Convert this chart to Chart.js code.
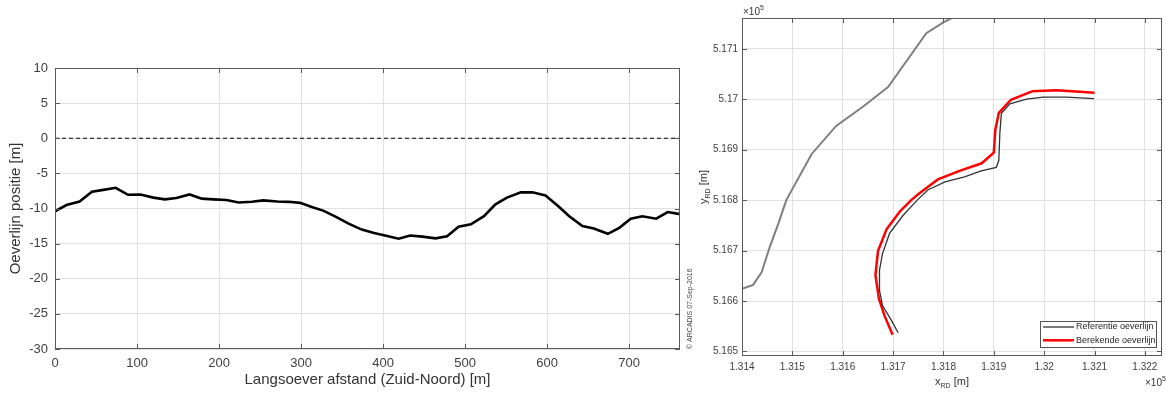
<!DOCTYPE html>
<html lang="nl">
<head>
<meta charset="UTF-8">
<title>Oeverlijn</title>
<style>
  body { margin: 0; background: #fff; }
  #links { position: absolute; left: 0; top: 0; }
  #rechts { position: absolute; left: 695px; top: 0; }
</style>
</head>
<body>
<canvas id="links" width="695" height="394"></canvas>
<canvas id="rechts" width="471" height="394"></canvas>

<script src="https://cdn.jsdelivr.net/npm/chart.js"></script>
<script>
// linker grafiek: oeverlijn positie langs de oever
const afstand = [0, 14, 30, 45, 59, 74, 89, 104, 120, 134, 148, 164, 179, 193, 209, 224, 240, 254, 271, 285,
  299, 313, 327, 342, 358, 374, 389, 405, 419, 433, 448, 464, 478, 492, 507, 523, 537, 551, 568, 582,
  598, 613, 627, 643, 657, 674, 688, 702, 716, 733, 747, 762];
const positie = [-10.4, -9.5, -9.0, -7.6, -7.35, -7.05, -8.05, -8.0, -8.45, -8.7, -8.5, -8.0, -8.6, -8.7, -8.8, -9.15, -9.05, -8.85, -9.0, -9.05,
  -9.2, -9.8, -10.3, -11.15, -12.15, -13.0, -13.5, -13.9, -14.3, -13.85, -14.0, -14.25, -13.95, -12.6, -12.25, -11.1, -9.4, -8.45, -7.7, -7.7,
  -8.15, -9.6, -11.1, -12.5, -12.85, -13.6, -12.75, -11.45, -11.1, -11.45, -10.5, -10.8];
const afstandBereik = [0, 762];
const positieBereik = [-30, 10];

// rechter grafiek: RD-coordinaten [m]
const grensX = [131400, 131422, 131439, 131455, 131472, 131488, 131538, 131587, 131640, 131690, 131766, 131799, 131830];
const grensY = [516624, 516632, 516657, 516707, 516753, 516800, 516891, 516947, 516985, 517024, 517131, 517152, 517168];

const refX = [131710, 131697, 131679, 131673, 131673, 131679, 131693, 131720, 131748, 131769, 131803, 131842, 131875, 131905,
  131910, 131912, 131915, 131932, 131965, 131998, 132044, 132099];
const refY = [516537, 516561, 516591, 516621, 516661, 516694, 516734, 516770, 516800, 516820, 516836, 516846, 516858, 516865,
  516879, 516932, 516972, 516991, 517000, 517004, 517004, 517001];

const berX = [131699, 131683, 131672, 131665, 131670, 131687, 131713, 131736, 131753, 131789, 131832, 131876, 131900, 131903,
  131910, 131934, 131977, 132024, 132100];
const berY = [516533, 516571, 516604, 516651, 516699, 516742, 516777, 516800, 516814, 516841, 516858, 516873, 516894, 516939,
  516973, 516999, 517016, 517018, 517013];

const rdXBereik = [131400, 132234];
const rdYBereik = [516491, 517161];

const FONT = "'Liberation Sans', Arial, sans-serif";
Chart.defaults.font.family = FONT;
Chart.defaults.color = '#404040';

const punten = (xs, ys) => xs.map((x, i) => ({ x: x, y: ys[i] }));

// kader met tickjes naar binnen, zoals in matlab
const kader = {
  id: 'kader',
  afterDatasetsDraw(chart) {
    const { ctx, chartArea: a, scales: { x, y } } = chart;
    ctx.save();
    ctx.strokeStyle = '#5a5a5a';
    ctx.lineWidth = 1;
    ctx.beginPath();
    x.ticks.forEach(t => {
      const px = Math.round(x.getPixelForValue(t.value)) + 0.5;
      ctx.moveTo(px, a.bottom); ctx.lineTo(px, a.bottom - 5);
      ctx.moveTo(px, a.top); ctx.lineTo(px, a.top + 5);
    });
    y.ticks.forEach(t => {
      const py = Math.round(y.getPixelForValue(t.value)) + 0.5;
      ctx.moveTo(a.left, py); ctx.lineTo(a.left + 5, py);
      ctx.moveTo(a.right, py); ctx.lineTo(a.right - 5, py);
    });
    ctx.stroke();
    ctx.strokeRect(Math.round(a.left) + 0.5, Math.round(a.top) + 0.5, Math.round(a.width) - 1, Math.round(a.height) - 1);
    ctx.restore();
  }
};

const watermerk = {
  id: 'watermerk',
  afterDraw(chart) {
    const ctx = chart.ctx;
    ctx.save();
    ctx.translate(690, chart.chartArea.bottom);
    ctx.rotate(-Math.PI / 2);
    ctx.font = '7px ' + FONT;
    ctx.fillStyle = '#444';
    ctx.textAlign = 'left';
    ctx.textBaseline = 'middle';
    ctx.fillText('\u00a9 ARCADIS 07-Sep-2016', 0, 0);
    ctx.restore();
  }
};

new Chart(document.getElementById('links'), {
  type: 'scatter',
  data: {
    datasets: [
      { data: punten(afstand, positie), showLine: true, borderColor: '#000', borderWidth: 2.6, pointRadius: 0 },
      { data: afstandBereik.map(x => ({ x: x, y: 0 })), showLine: true, borderColor: '#000', borderWidth: 1, borderDash: [4, 3], pointRadius: 0 }
    ]
  },
  options: {
    responsive: false,
    animation: false,
    layout: { padding: { left: 0, right: 15, top: 68, bottom: 0 } },
    plugins: { legend: { display: false }, tooltip: { enabled: false } },
    scales: {
      x: {
        type: 'linear', min: afstandBereik[0], max: afstandBereik[1],
        ticks: { stepSize: 100, includeBounds: false, font: { size: 13 }, padding: 7, maxRotation: 0 },
        grid: { color: '#e2e2e2', drawTicks: false },
        border: { display: false },
        title: { display: true, text: 'Langsoever afstand (Zuid-Noord) [m]', font: { size: 15 }, color: '#333', padding: { top: 0, bottom: 5 } },
        afterFit: s => { s.height = 45; }
      },
      y: {
        min: positieBereik[0], max: positieBereik[1],
        ticks: { stepSize: 5, includeBounds: false, font: { size: 13 }, padding: 7 },
        grid: { color: '#e2e2e2', drawTicks: false },
        border: { display: false },
        title: { display: true, text: 'Oeverlijn positie [m]', font: { size: 15 }, color: '#333', padding: { top: 7, bottom: 0 } },
        afterFit: s => { s.width = 55; }
      }
    }
  },
  plugins: [kader, watermerk]
});

// titels met subscript, x10^5 en legenda binnen het kader
const rdTeksten = {
  id: 'rdTeksten',
  afterDraw(chart) {
    const { ctx, chartArea: a } = chart;
    ctx.save();
    ctx.fillStyle = '#333';
    ctx.textBaseline = 'alphabetic';

    const exp = (x, y) => {
      ctx.font = '10px ' + FONT;
      ctx.textAlign = 'left';
      ctx.fillText('\u00d710', x, y);
      const w = ctx.measureText('\u00d710').width;
      ctx.font = '7px ' + FONT;
      ctx.fillText('5', x + w, y - 5);
    };
    exp(a.left + 1, 15);
    exp(a.right - 17, 386);

    const subTitel = (x, y, hoofd, sub, rest) => {
      ctx.font = '11px ' + FONT;
      const w1 = ctx.measureText(hoofd).width;
      const w3 = ctx.measureText(rest).width;
      ctx.font = '7px ' + FONT;
      const w2 = ctx.measureText(sub).width;
      let sx = x - (w1 + w2 + w3) / 2;
      ctx.textAlign = 'left';
      ctx.font = '11px ' + FONT;
      ctx.fillText(hoofd, sx, y);
      ctx.font = '7px ' + FONT;
      ctx.fillText(sub, sx + w1, y + 3);
      ctx.font = '11px ' + FONT;
      ctx.fillText(rest, sx + w1 + w2, y);
    };
    subTitel((a.left + a.right) / 2, 385, 'x', 'RD', ' [m]');
    ctx.save();
    ctx.translate(12, (a.top + a.bottom) / 2);
    ctx.rotate(-Math.PI / 2);
    subTitel(0, 0, 'y', 'RD', ' [m]');
    ctx.restore();

    // legenda
    const items = chart.data.datasets.filter(d => d.label);
    const bx = 345, by = 321, bw = 116, bh = 26;
    ctx.fillStyle = '#fff';
    ctx.fillRect(bx, by, bw, bh);
    ctx.strokeStyle = '#555';
    ctx.lineWidth = 1;
    ctx.strokeRect(bx + 0.5, by + 0.5, bw, bh);
    ctx.font = '9px ' + FONT;
    ctx.textBaseline = 'middle';
    items.forEach((d, i) => {
      const ry = by + 6 + i * 13.3;
      ctx.strokeStyle = d.borderColor;
      ctx.lineWidth = d.borderWidth;
      ctx.beginPath();
      ctx.moveTo(bx + 3, ry); ctx.lineTo(bx + 34, ry);
      ctx.stroke();
      ctx.fillStyle = '#262626';
      ctx.fillText(d.label, bx + 36, ry);
    });
    ctx.restore();
  }
};

const rdLabel = v => parseFloat((v / 1e5).toFixed(3)).toString();

new Chart(document.getElementById('rechts'), {
  type: 'scatter',
  data: {
    datasets: [
      { label: 'Referentie oeverlijn', data: punten(refX, refY), showLine: true, borderColor: '#333', borderWidth: 1.3, pointRadius: 0 },
      { label: 'Berekende oeverlijn', data: punten(berX, berY), showLine: true, borderColor: '#ff0000', borderWidth: 2.5, pointRadius: 0 },
      { label: '', data: punten(grensX, grensY), showLine: true, borderColor: '#7f7f7f', borderWidth: 2, pointRadius: 0, clip: 0 }
    ]
  },
  options: {
    responsive: false,
    animation: false,
    layout: { padding: { left: 0, right: 4, top: 18, bottom: 0 } },
    plugins: { legend: { display: false }, tooltip: { enabled: false } },
    scales: {
      x: {
        type: 'linear', min: rdXBereik[0], max: rdXBereik[1],
        ticks: { stepSize: 100, includeBounds: false, font: { size: 10 }, padding: 5, maxRotation: 0, callback: rdLabel },
        grid: { color: '#e2e2e2', drawTicks: false },
        border: { display: false },
        afterFit: s => { s.height = 38; }
      },
      y: {
        min: rdYBereik[0], max: rdYBereik[1],
        ticks: { stepSize: 100, includeBounds: false, font: { size: 10 }, padding: 4, callback: rdLabel },
        grid: { color: '#e2e2e2', drawTicks: false },
        border: { display: false },
        afterFit: s => { s.width = 47; }
      }
    }
  },
  plugins: [kader, rdTeksten]
});
</script>
</body>
</html>
